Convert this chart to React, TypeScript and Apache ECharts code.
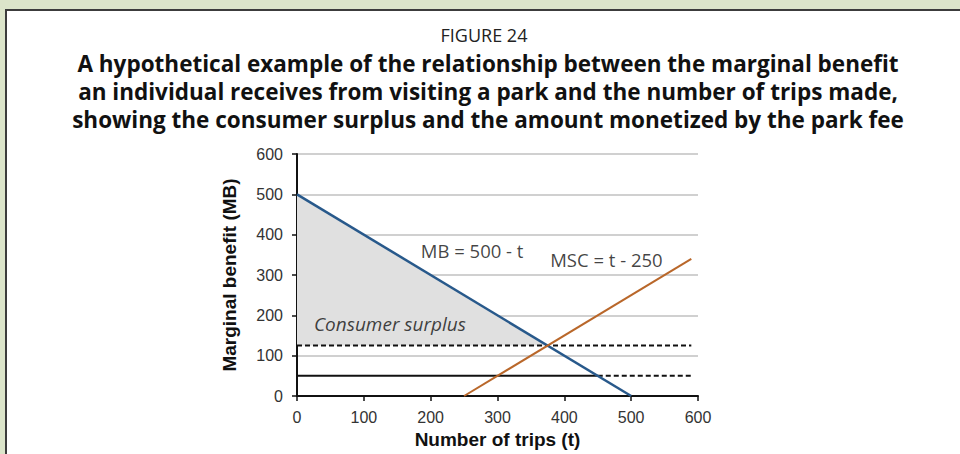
import React, { useEffect, useRef } from "react";
import * as echarts from "echarts";

// ---- data ----
const xTickValues = [0, 100, 200, 300, 400, 500, 600];
const yTickValues = [0, 100, 200, 300, 400, 500, 600];
const mbX = [0, 500];
const mbY = [500, 0];
const mscX = [250, 590];
const mscY = [0, 340];
const surplusX = [0, 375, 0];
const surplusY = [500, 125, 125];
const priceDashedX = [0, 590];
const priceDashedY = [125, 125];
const feeSolidX = [0, 450];
const feeSolidY = [50, 50];
const feeDashedX = [450, 590];
const feeDashedY = [50, 50];
const annotationTexts = ["MB = 500 - t", "MSC = t - 250", "Consumer surplus"];
const annotationX = [262, 463, 139];
const annotationY = [361, 339, 179];

const titleLines = [
  "A hypothetical example of the relationship between the marginal benefit",
  "an individual receives from visiting a park and the number of trips made,",
  "showing the consumer surplus and the amount monetized by the park fee",
];

const pairs = (xs: number[], ys: number[]) => xs.map((x, i) => [x, ys[i]]);

export default function App() {
  const ref = useRef<HTMLDivElement>(null);
  useEffect(() => {
    if (!ref.current) return;
    const chart = echarts.init(ref.current, undefined, { renderer: "svg" });
    const axisFont = "'Liberation Sans', Arial, sans-serif";
    const textFont = "'Open Sans', 'Noto Sans', sans-serif";
    const lineSeries = (xs: number[], ys: number[], color: string, width: number, type: any, z: number) => ({
      type: "line",
      data: pairs(xs, ys),
      symbol: "none",
      z,
      lineStyle: { color, width, type },
      silent: true,
    });
    chart.setOption({
      animation: false,
      backgroundColor: "transparent",
      graphic: [
        {
          type: "rect",
          shape: { x: 6, y: 10, width: 970, height: 460 },
          style: { fill: "#ffffff", stroke: "#3c3c3c", lineWidth: 2 },
          z: -10,
        },
        {
          type: "text",
          x: 484,
          y: 35,
          style: {
            text: "FIGURE 24",
            font: `normal 18px ${textFont}`,
            fill: "#222",
            textAlign: "center",
            textVerticalAlign: "middle",
          },
        },
        ...titleLines.map((t, i) => ({
          type: "text",
          x: 488,
          y: 63 + i * 28,
          style: {
            text: t,
            font: `bold 22.5px ${textFont}`,
            fill: "#111",
            textAlign: "center",
            textVerticalAlign: "middle",
          },
        })),
      ],
      grid: { left: 297, right: 262, top: 154, bottom: 53.5 },
      xAxis: {
        type: "value",
        min: xTickValues[0],
        max: xTickValues[xTickValues.length - 1],
        interval: 100,
        name: "Number of trips (t)",
        nameLocation: "middle",
        nameGap: 34,
        nameTextStyle: { fontFamily: axisFont, fontWeight: "bold", fontSize: 19, color: "#111" },
        axisLine: { show: true, lineStyle: { color: "#111", width: 2 } },
        axisTick: { show: true, length: 5, lineStyle: { color: "#111", width: 1.5 } },
        axisLabel: { fontFamily: axisFont, fontSize: 16, color: "#333", margin: 13 },
        splitLine: { show: false },
      },
      yAxis: {
        type: "value",
        min: yTickValues[0],
        max: yTickValues[yTickValues.length - 1],
        interval: 100,
        name: "Marginal benefit (MB)",
        nameLocation: "middle",
        nameGap: 58,
        nameTextStyle: { fontFamily: axisFont, fontWeight: "bold", fontSize: 19, color: "#111" },
        axisLine: { show: true, lineStyle: { color: "#111", width: 2 } },
        axisTick: { show: true, length: 5, lineStyle: { color: "#111", width: 1.5 } },
        axisLabel: { fontFamily: axisFont, fontSize: 16, color: "#333", margin: 14 },
        splitLine: { show: true, lineStyle: { color: "#c0c0c0", width: 1.5 } },
      },
      series: [
        {
          type: "custom",
          z: 1,
          silent: true,
          data: [[surplusX[0], surplusY[0]]],
          renderItem: (_p: any, api: any) => ({
            type: "polygon",
            shape: { points: surplusX.map((x, i) => api.coord([x, surplusY[i]])) },
            style: { fill: "#e0e0e0" },
          }),
        },
        lineSeries(priceDashedX, priceDashedY, "#111", 2, [5, 3], 3),
        lineSeries(feeSolidX, feeSolidY, "#111", 2, "solid", 3),
        lineSeries(feeDashedX, feeDashedY, "#111", 2, [5, 3], 3),
        lineSeries(mbX, mbY, "#28598b", 2.5, "solid", 4),
        lineSeries(mscX, mscY, "#b9672a", 2, "solid", 4),
        {
          type: "scatter",
          symbolSize: 0,
          z: 5,
          silent: true,
          data: annotationTexts.map((t, i) => ({
            name: t,
            value: [annotationX[i], annotationY[i]],
            label: i === 2 ? { fontStyle: "italic", fontSize: 19 } : {},
          })),
          label: {
            show: true,
            position: "inside",
            formatter: (p: any) => p.name,
            fontFamily: textFont,
            fontSize: 18.5,
            color: "#111",
          },
        },
      ],
    });
    return () => chart.dispose();
  }, []);
  return (
    <div
      ref={ref}
      style={{
        position: "fixed",
        left: 0,
        top: 0,
        width: 960,
        height: 454,
        background: "#dce5ca",
      }}
    />
  );
}
